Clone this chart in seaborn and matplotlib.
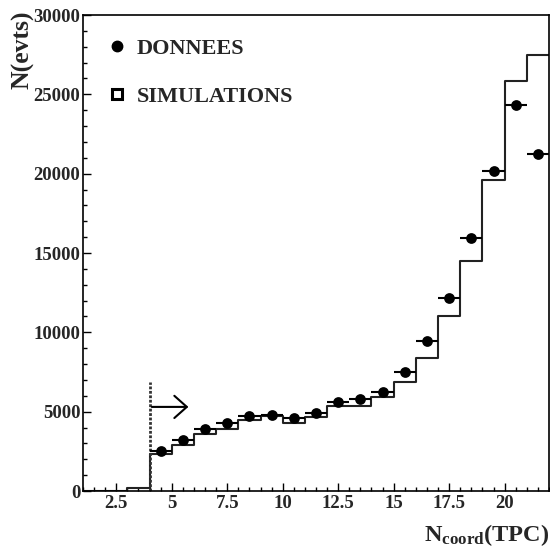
import numpy as np
import pandas as pd
import matplotlib
matplotlib.use("Agg")
import matplotlib.pyplot as plt
from matplotlib.lines import Line2D
from matplotlib.ticker import MultipleLocator, FixedLocator, FixedFormatter
import seaborn as sns

# ---- data ----
bin_edges = list(range(1, 23))                      # 1..22, width 1
sim_counts = [0, 0, 200, 2310, 2900, 3590, 3930, 4450, 4730, 4300, 4680,
              5380, 5380, 5940, 6850, 8400, 11050, 14490, 19580, 25850, 27450]
data_x = [4.5, 5.5, 6.5, 7.5, 8.5, 9.5, 10.5, 11.5, 12.5, 13.5, 14.5,
          15.5, 16.5, 17.5, 18.5, 19.5, 20.5, 21.5]
data_y = [2520, 3190, 3900, 4300, 4750, 4790, 4580, 4900, 5610, 5780, 6220,
          7500, 9450, 12140, 15920, 20140, 24300, 21220]
data_xerr = 0.5
xtick_vals = [2.5, 5, 7.5, 10, 12.5, 15, 17.5, 20]
xtick_labels = ["2.5", "5", "7.5", "10", "12.5", "15", "17.5", "20"]
ytick_vals = [0, 5000, 10000, 15000, 20000, 25000, 30000]
ytick_labels = ["0", "5000", "10000", "15000", "20000", "25000", "30000"]
cut_x = 4
cut_top = 6900
arrow_y = 5300
arrow_x0, arrow_x1 = 4.1, 5.75
legend_labels = ["DONNEES", "SIMULATIONS"]

sns.set_theme(style="ticks")
plt.rcParams["font.family"] = ["Liberation Serif", "DejaVu Serif"]
plt.rcParams["font.weight"] = "bold"
plt.rcParams["mathtext.fontset"] = "custom"
plt.rcParams["mathtext.rm"] = "Liberation Serif:bold"
plt.rcParams["mathtext.bf"] = "Liberation Serif:bold"
plt.rcParams["mathtext.it"] = "Liberation Serif:bold"

fig = plt.figure(figsize=(5.5, 5.51), dpi=100)
ax = fig.add_axes([83/550, 60/551, 466/550, 476/551])

centers = [e + 0.5 for e in bin_edges[:-1]]
sim_df = pd.DataFrame({"x": centers, "w": sim_counts})
sns.histplot(data=sim_df, x="x", weights="w", bins=bin_edges, element="step",
             fill=False, color="#222222", linewidth=1.5, ax=ax)

dat_df = pd.DataFrame({"x": data_x, "y": data_y})
ax.errorbar(data_x, data_y, xerr=data_xerr, fmt="none", ecolor="black",
            elinewidth=1.5, capsize=0, zorder=3)
sns.scatterplot(data=dat_df, x="x", y="y", color="black", s=60,
                edgecolor="black", linewidth=0, zorder=4, ax=ax)

# cut line and arrow
ax.plot([cut_x, cut_x], [0, cut_top], color="#333333", ls=(0, (1, 0.6)),
        lw=2, zorder=2)
ax.annotate("", xy=(arrow_x1, arrow_y), xytext=(arrow_x0, arrow_y),
            arrowprops=dict(arrowstyle="->,head_width=0.4,head_length=0.45",
                            lw=1.5, color="black", mutation_scale=20,
                            shrinkA=0, shrinkB=0))

ax.set_xlim(1, 22)
ax.set_ylim(0, 30000)
ax.xaxis.set_major_locator(FixedLocator(xtick_vals))
ax.xaxis.set_major_formatter(FixedFormatter(xtick_labels))
ax.xaxis.set_minor_locator(MultipleLocator(0.5))
ax.yaxis.set_major_locator(FixedLocator(ytick_vals))
ax.yaxis.set_major_formatter(FixedFormatter(ytick_labels))
ax.yaxis.set_minor_locator(MultipleLocator(1000))
ax.tick_params(which="both", direction="in", top=False, right=False,
               labelsize=13.5, width=1, color="black")
ax.tick_params(which="major", length=6)
ax.tick_params(which="minor", length=3)
ax.tick_params(axis="x", which="major", pad=3)
ax.tick_params(axis="y", which="major", pad=2)
for lab in ax.get_xticklabels() + ax.get_yticklabels():
    lab.set_fontweight("bold")
for s in ax.spines.values():
    s.set_visible(True)
    s.set_linewidth(1.2)
    s.set_color("black")

ax.set_ylabel("N(evts)", fontsize=18.5, fontweight="bold", loc="top")
ax.yaxis.set_label_coords(-0.105, 1.010)
ax.set_xlabel(r"$\mathbf{N_{coord}}$(TPC)", fontsize=17.5, fontweight="bold",
              loc="right")
ax.xaxis.set_label_coords(1.0, -0.066)

handles = [Line2D([], [], marker="o", ls="none", color="black", markersize=7.5),
           Line2D([], [], marker="s", ls="none", mfc="white", mec="black",
                  mew=2.2, markersize=7.5)]
ax.legend(handles, legend_labels, loc="upper left",
          bbox_to_anchor=(0.049, 0.951), frameon=False, borderpad=0,
          borderaxespad=0, handlelength=1.0, handletextpad=0.4,
          labelspacing=1.22, prop={"family": "Liberation Serif",
                                   "weight": "bold", "size": 16})

fig.savefig("out.png", dpi=100)
